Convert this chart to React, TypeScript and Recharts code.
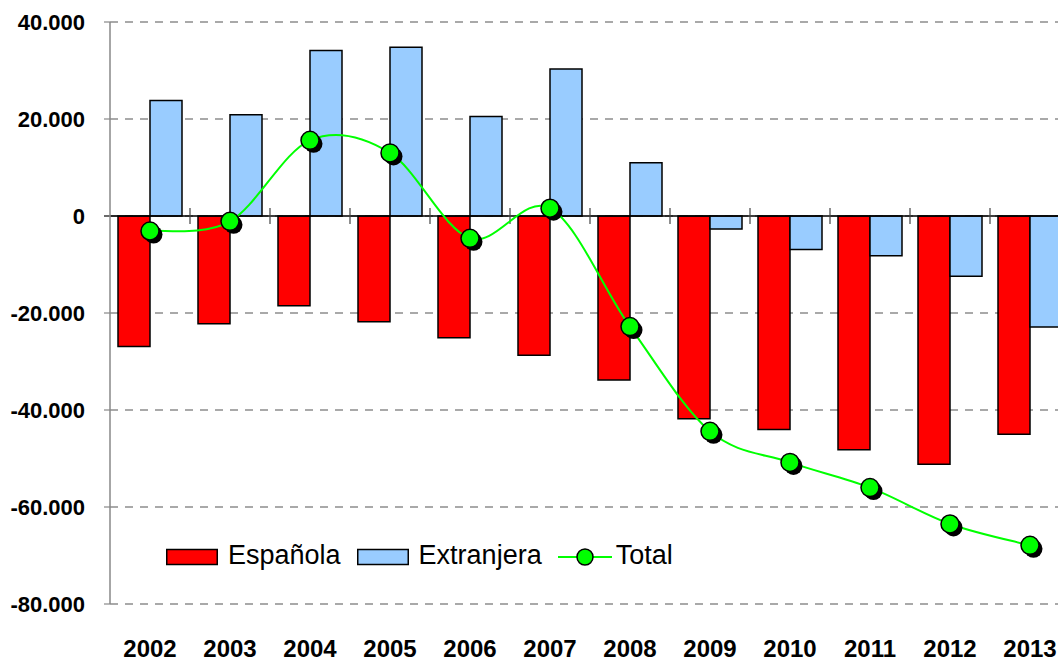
import {
  ComposedChart,
  Bar,
  Line,
  XAxis,
  YAxis,
  CartesianGrid,
  Legend,
  ReferenceLine,
} from "recharts";

const years = [
  "2002", "2003", "2004", "2005", "2006", "2007",
  "2008", "2009", "2010", "2011", "2012", "2013",
];

const espanola = [
  -26900, -22200, -18500, -21800, -25100, -28700,
  -33800, -41800, -44000, -48200, -51200, -45000,
];

const extranjera = [
  23800, 20900, 34100, 34800, 20500, 30300,
  11000, -2700, -6900, -8200, -12400, -22900,
];

const total = [
  -3100, -1100, 15600, 13000, -4600, 1600,
  -22800, -44400, -50800, -56000, -63500, -67900,
];

const yTicks = [-80000, -60000, -40000, -20000, 0, 20000, 40000];

const FONT = '"Liberation Sans", Arial, sans-serif';

const COLORS = {
  espanola: "#FF0000",
  extranjera: "#99CCFF",
  total: "#00FF00",
};

const data = years.map((year, i) => ({
  year,
  espanola: espanola[i],
  extranjera: extranjera[i],
  total: total[i],
}));

// 40000 -> "40.000", -80000 -> "-80.000"
const fmt = (v: number) => {
  const s = String(Math.abs(v)).replace(/\B(?=(\d{3})+(?!\d))/g, ".");
  return v < 0 ? "-" + s : s;
};

// Excel-like smoothed line: Catmull-Rom through every point.
function smoothCurve(context: any) {
  let pts: [number, number][] = [];
  return {
    areaStart() {},
    areaEnd() {},
    lineStart() {
      pts = [];
    },
    point(x: number, y: number) {
      pts.push([+x, +y]);
    },
    lineEnd() {
      if (!pts.length) return;
      context.moveTo(pts[0][0], pts[0][1]);
      for (let i = 0; i < pts.length - 1; i++) {
        const p0 = pts[i - 1] || pts[i];
        const p1 = pts[i];
        const p2 = pts[i + 1];
        const p3 = pts[i + 2] || p2;
        context.bezierCurveTo(
          p1[0] + (p2[0] - p0[0]) / 6,
          p1[1] + (p2[1] - p0[1]) / 6,
          p2[0] - (p3[0] - p1[0]) / 6,
          p2[1] - (p3[1] - p1[1]) / 6,
          p2[0],
          p2[1]
        );
      }
    },
  };
}

const TotalDot = (props: any) => {
  const { cx, cy } = props;
  if (cx == null || cy == null) return null;
  return (
    <g>
      <circle cx={cx + 3.5} cy={cy + 3.5} r={9} fill="#000" />
      <circle cx={cx} cy={cy} r={9} fill={COLORS.total} stroke="#000" strokeWidth={1.5} />
    </g>
  );
};

const YearTick = ({ x, y, payload }: any) => (
  <text
    x={x}
    y={y + 53}
    textAnchor="middle"
    fontFamily={FONT}
    fontSize={24}
    fontWeight="bold"
    fill="#000"
  >
    {payload.value}
  </text>
);

// category axis drawn at y = 0, with tick marks between the categories
const ZeroAxis = (props: any) => {
  const { x1, x2, y1 } = props;
  const step = (x2 - x1) / years.length;
  return (
    <g>
      <line x1={x1 - 6} y1={y1} x2={x2} y2={y1} stroke="#000" strokeWidth={1.3} />
      {years.slice(1).map((_, i) => {
        const x = x1 + step * (i + 1);
        return (
          <line key={i} x1={x} x2={x} y1={y1 - 8} y2={y1 + 8} stroke="#444" strokeWidth={1.2} />
        );
      })}
    </g>
  );
};

const LegendBox = () => (
  <div
    style={{
      display: "flex",
      alignItems: "center",
      height: 27,
      lineHeight: "27px",
      fontFamily: FONT,
      fontSize: 27,
      color: "#000",
      whiteSpace: "nowrap",
    }}
  >
    <svg width={52} height={27}>
      <rect x={0.75} y={7.5} width={50.5} height={15} fill={COLORS.espanola} stroke="#000" strokeWidth={1.5} />
    </svg>
    <span style={{ marginLeft: 10 }}>Española</span>
    <svg width={52} height={27} style={{ marginLeft: 16 }}>
      <rect x={0.75} y={7.5} width={50.5} height={15} fill={COLORS.extranjera} stroke="#000" strokeWidth={1.5} />
    </svg>
    <span style={{ marginLeft: 10 }}>Extranjera</span>
    <svg width={54} height={27} style={{ marginLeft: 16 }}>
      <line x1={0} y1={15} x2={54} y2={15} stroke={COLORS.total} strokeWidth={2} />
      <circle cx={27} cy={15} r={8} fill={COLORS.total} stroke="#000" strokeWidth={1.5} />
    </svg>
    <span style={{ marginLeft: 4 }}>Total</span>
  </div>
);

export default function App() {
  return (
    <div
      style={{
        position: "absolute",
        left: 0,
        top: 0,
        width: 1058,
        height: 659,
        overflow: "hidden",
        background: "#fff",
      }}
    >
      <ComposedChart
        width={1080}
        height={659}
        data={data}
        margin={{ top: 22, right: 10, bottom: 0, left: 0 }}
        barCategoryGap="10%"
        barGap={0}
      >
        <CartesianGrid
          vertical={false}
          stroke="#555"
          strokeWidth={1.2}
          strokeDasharray="8 7"
        />
        <XAxis
          dataKey="year"
          axisLine={false}
          tickLine={false}
          tickSize={0}
          tickMargin={0}
          height={55}
          tick={<YearTick />}
          interval={0}
        />
        <YAxis
          width={110}
          domain={[-80000, 40000]}
          ticks={yTicks}
          interval={0}
          tickFormatter={fmt}
          axisLine={{ stroke: "#888", strokeWidth: 1.5 }}
          tickLine={{ stroke: "#888", strokeWidth: 1.2 }}
          tickSize={6}
          tickMargin={19}
          tick={{ fill: "#000", fontFamily: FONT, fontSize: 22, fontWeight: "bold" }}
        />
        <Bar
          dataKey="espanola"
          name="Española"
          fill={COLORS.espanola}
          stroke="#000"
          strokeWidth={1.5}
          isAnimationActive={false}
        />
        <Bar
          dataKey="extranjera"
          name="Extranjera"
          fill={COLORS.extranjera}
          stroke="#000"
          strokeWidth={1.5}
          isAnimationActive={false}
        />
        <ReferenceLine y={0} shape={<ZeroAxis />} />
        <Line
          dataKey="total"
          name="Total"
          type={smoothCurve as any}
          stroke={COLORS.total}
          strokeWidth={2}
          dot={<TotalDot />}
          activeDot={false}
          isAnimationActive={false}
        />
        <Legend
          layout="horizontal"
          verticalAlign="middle"
          align="center"
          content={<LegendBox />}
          wrapperStyle={{ left: 166, top: 542, width: "auto", height: 27 }}
        />
      </ComposedChart>
    </div>
  );
}
